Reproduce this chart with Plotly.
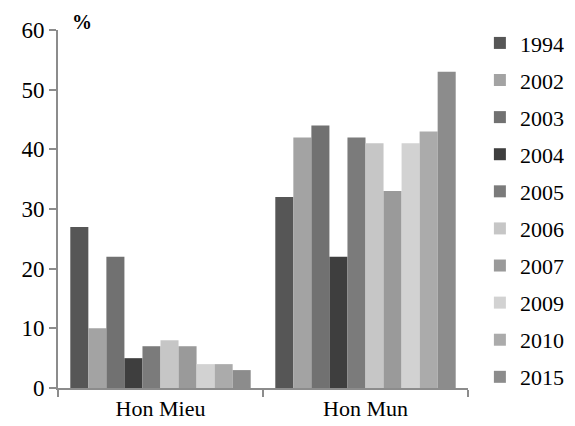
import plotly.graph_objects as go

categories = ["Hon Mieu", "Hon Mun"]
years = ["1994", "2002", "2003", "2004", "2005", "2006", "2007", "2009", "2010", "2015"]
hon_mieu = [27, 10, 22, 5, 7, 8, 7, 4, 4, 3]
hon_mun = [32, 42, 44, 22, 42, 41, 33, 41, 43, 53]
colors = ["#565656", "#a3a3a3", "#717171", "#3e3e3e", "#7b7b7b",
          "#c6c6c6", "#9a9a9a", "#d2d2d2", "#ababab", "#8c8c8c"]

fig = go.Figure()
for i, y in enumerate(years):
    fig.add_trace(go.Bar(
        x=categories, y=[hon_mieu[i], hon_mun[i]], name=y,
        marker=dict(color=colors[i], line=dict(width=0)),
        legendgroup=y,
    ))

font = "Liberation Serif"
fig.update_layout(
    width=567, height=418,
    margin=dict(l=50, r=107, t=22, b=38, autoexpand=False),
    paper_bgcolor="white", plot_bgcolor="white",
    barmode="group", bargap=0.12, bargroupgap=0,
    font=dict(family=font, size=22, color="black"),
    showlegend=True,
    legend=dict(x=1.029, xanchor="left", y=1.022, yanchor="top",
                font=dict(family=font, size=22, color="black"),
                tracegroupgap=5.5, itemwidth=30, maxheight=418,
                bgcolor="rgba(0,0,0,0)"),
    xaxis=dict(showline=True, linecolor="#8c8c8c", linewidth=2,
               ticks="outside", tickson="boundaries", ticklen=7,
               tickcolor="#8c8c8c", tickwidth=2, automargin=False,
               tickfont=dict(family=font, size=22)),
    yaxis=dict(range=[0, 60], dtick=10, showline=True, linecolor="#8c8c8c",
               linewidth=2, ticks="outside", ticklen=7, tickcolor="#8c8c8c",
               tickwidth=2, showgrid=False, zeroline=False, automargin=False,
               tickfont=dict(family=font, size=23)),
    annotations=[dict(text="<b>%</b>", x=0.03, y=1.022, xref="paper", yref="paper",
                      xanchor="left", yanchor="middle", showarrow=False,
                      font=dict(family=font, size=20, color="black"))],
)

fig.write_html("out.html")
